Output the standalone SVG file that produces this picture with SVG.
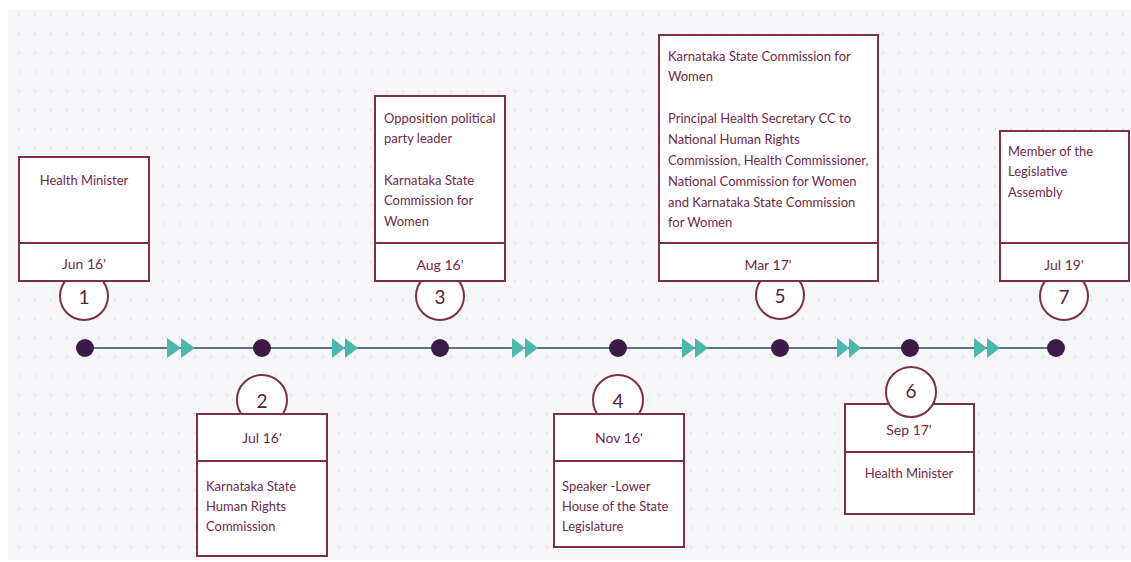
<svg xmlns="http://www.w3.org/2000/svg" width="1131" height="562" viewBox="0 0 1131 562">
<defs>
<pattern id="dots" x="11" y="5.5" width="16" height="19" patternUnits="userSpaceOnUse">
<circle cx="8" cy="9.5" r="1.1" fill="#dfdfe4"/>
</pattern>
<style>
.box{fill:#ffffff;stroke:#7b3048;stroke-width:2}
.div{stroke:#7b3048;stroke-width:2}
.num{fill:#ffffff;stroke:#7b3048;stroke-width:2}
text{font-family:Lato,"Open Sans",sans-serif;font-size:13px;fill:#72294a}
.c{text-anchor:middle}
.d{font-size:14px;text-anchor:middle}
.n{font-size:19px;text-anchor:middle;fill:#5a1f38}
.dot{fill:#3b1a47}
.arr{fill:#4cb7ad}
</style>
</defs>
<rect x="0" y="0" width="1131" height="562" fill="#ffffff"/>
<rect x="8" y="10" width="1123" height="550" fill="#f7f7f9"/>
<rect x="8" y="10" width="1123" height="550" fill="url(#dots)"/>

<g id="connectors">
<line x1="85" y1="348" x2="1056" y2="348" stroke="#5c7480" stroke-width="2"/>
<g class="arr">
<polygon points="167,338 181,348 167,358"/><polygon points="181,338 195,348 181,358"/>
<polygon points="332,338 345,348 332,358"/><polygon points="345,338 358,348 345,358"/>
<polygon points="512,338 525,348 512,358"/><polygon points="525,338 538,348 525,358"/>
<polygon points="682,338 695,348 682,358"/><polygon points="695,338 708,348 695,358"/>
<polygon points="837,338 849,348 837,358"/><polygon points="849,338 861,348 849,358"/>
<polygon points="974,338 987,348 974,358"/><polygon points="987,338 1000,348 987,358"/>
</g>
<circle class="dot" cx="85" cy="348" r="9"/>
<circle class="dot" cx="262" cy="348" r="9"/>
<circle class="dot" cx="440" cy="348" r="9"/>
<circle class="dot" cx="618" cy="348" r="9"/>
<circle class="dot" cx="780" cy="348" r="9"/>
<circle class="dot" cx="910" cy="348" r="9"/>
<circle class="dot" cx="1056" cy="348" r="9"/>
</g>

<g id="node1">
<circle class="num" cx="84" cy="296" r="24"/>
<rect class="box" x="19" y="157" width="130" height="124"/>
<line class="div" x1="19" y1="243" x2="149" y2="243"/>
<text class="c" x="84" y="185">Health Minister</text>
<text class="d" x="84" y="269">Jun 16'</text>
<text class="n" x="84" y="304">1</text>
</g>

<g id="node2">
<circle class="num" cx="262" cy="400" r="25"/>
<rect class="box" x="197" y="414" width="130" height="142"/>
<line class="div" x1="197" y1="461" x2="327" y2="461"/>
<text class="d" x="262" y="443">Jul 16'</text>
<text x="206" y="491">Karnataka State</text>
<text x="206" y="511">Human Rights</text>
<text x="206" y="531">Commission</text>
<text class="n" x="262" y="408">2</text>
</g>

<g id="node3">
<circle class="num" cx="440" cy="296" r="24"/>
<rect class="box" x="375" y="96" width="130" height="185"/>
<line class="div" x1="375" y1="243" x2="505" y2="243"/>
<text x="384" y="123">Opposition political</text>
<text x="384" y="143">party leader</text>
<text x="384" y="185">Karnataka State</text>
<text x="384" y="205">Commission for</text>
<text x="384" y="226">Women</text>
<text class="d" x="440" y="270">Aug 16'</text>
<text class="n" x="440" y="304">3</text>
</g>

<g id="node4">
<circle class="num" cx="618" cy="400" r="25"/>
<rect class="box" x="554" y="414" width="130" height="133"/>
<line class="div" x1="554" y1="461" x2="684" y2="461"/>
<text class="d" x="619" y="443">Nov 16'</text>
<text x="562" y="491">Speaker -Lower</text>
<text x="562" y="511">House of the State</text>
<text x="562" y="531">Legislature</text>
<text class="n" x="618" y="408">4</text>
</g>

<g id="node5">
<circle class="num" cx="780" cy="295" r="24"/>
<rect class="box" x="659" y="35" width="219" height="246"/>
<line class="div" x1="659" y1="243" x2="878" y2="243"/>
<text x="668" y="61">Karnataka State Commission for</text>
<text x="668" y="81">Women</text>
<text x="668" y="123">Principal Health Secretary CC to</text>
<text x="668" y="144">National Human Rights</text>
<text x="668" y="165">Commission, Health Commissioner,</text>
<text x="668" y="186">National Commission for Women</text>
<text x="668" y="207">and Karnataka State Commission</text>
<text x="668" y="227">for Women</text>
<text class="d" x="768" y="270">Mar 17'</text>
<text class="n" x="780" y="303">5</text>
</g>

<g id="node6">
<rect class="box" x="845" y="404" width="129" height="110"/>
<line class="div" x1="845" y1="452" x2="974" y2="452"/>
<circle class="num" cx="911" cy="392" r="25"/>
<text class="d" x="909" y="435">Sep 17'</text>
<text class="c" x="909" y="478">Health Minister</text>
<text class="n" x="911" y="398">6</text>
</g>

<g id="node7">
<circle class="num" cx="1064" cy="296" r="24"/>
<rect class="box" x="1000" y="131" width="129" height="150"/>
<line class="div" x1="1000" y1="243" x2="1129" y2="243"/>
<text x="1008" y="156">Member of the</text>
<text x="1008" y="176">Legislative</text>
<text x="1008" y="197">Assembly</text>
<text class="d" x="1064" y="270">Jul 19'</text>
<text class="n" x="1064" y="304">7</text>
</g>
</svg>
